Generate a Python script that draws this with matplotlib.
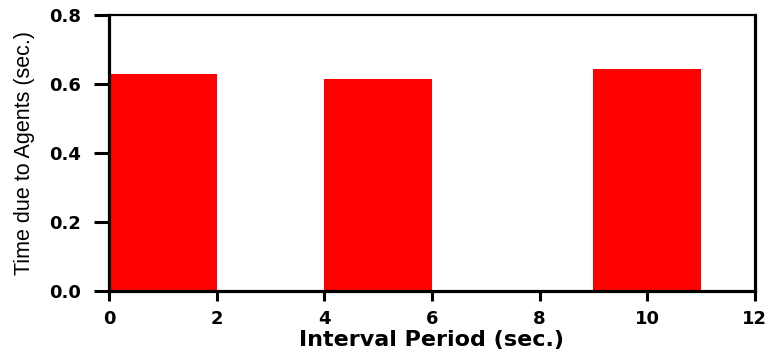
import matplotlib
matplotlib.use("Agg")
import matplotlib.pyplot as plt

# interval period (sec.) -> time spent by agents (sec.)
intervals = [1, 5, 10]
agent_time = [0.629, 0.614, 0.643]
bar_width = 2.0
x_ticks = [0, 2, 4, 6, 8, 10, 12]
y_ticks = [0.0, 0.2, 0.4, 0.6, 0.8]

fig = plt.figure(figsize=(7.75, 3.58), dpi=100)
ax = fig.add_axes([0.1406, 0.187, 0.8334, 0.771])

ax.bar(intervals, agent_time, width=bar_width, color="#ff0000", edgecolor="none")

ax.set_xlim(0, 12)
ax.set_ylim(0, 0.8)
ax.set_xticks(x_ticks)
ax.set_yticks(y_ticks)
tick_font = dict(fontfamily="DejaVu Sans", fontweight="heavy", fontsize=13)
ax.set_xticklabels([str(t) for t in x_ticks], **tick_font)
ax.set_yticklabels([f"{t:.1f}" for t in y_ticks], **tick_font)

for side in ["left", "bottom", "right"]:
    ax.spines[side].set_linewidth(2.3)
ax.spines["top"].set_linewidth(1.6)
ax.tick_params(axis="x", direction="out", length=7, width=2.2, pad=7)
ax.tick_params(axis="y", direction="out", length=11, width=2.2, pad=9)

ax.set_xlabel("Interval Period (sec.)", fontfamily="DejaVu Sans",
              fontweight="heavy", fontsize=16, labelpad=1)
ax.set_ylabel("Time due to Agents (sec.)", fontfamily="Liberation Sans",
              fontsize=15.5, labelpad=10)

fig.savefig("out.png", dpi=100)
